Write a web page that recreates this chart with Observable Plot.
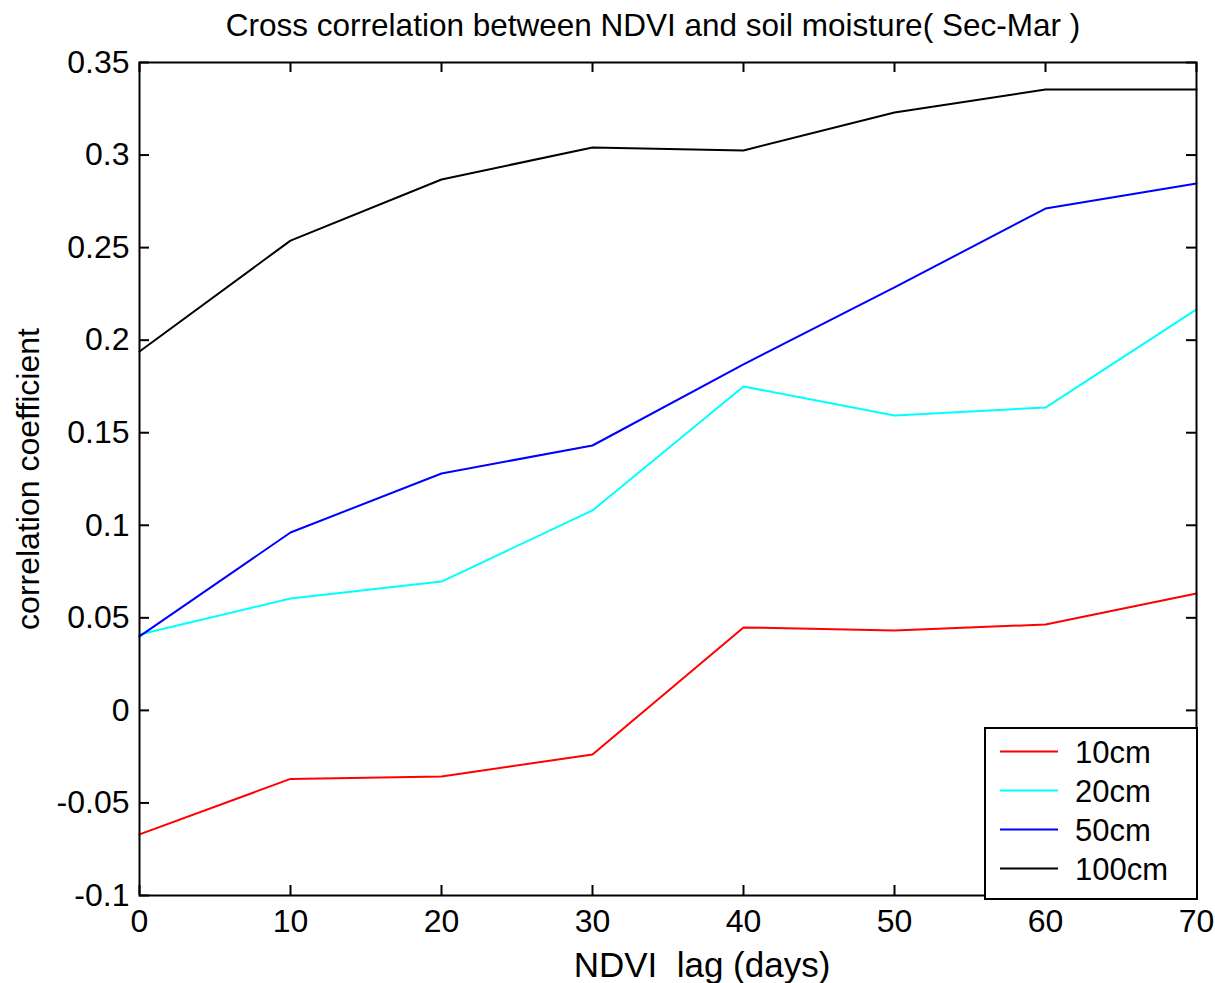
<!DOCTYPE html>
<html>
<head>
<meta charset="utf-8">
<script src="https://cdn.jsdelivr.net/npm/d3@7"></script>
<script src="https://cdn.jsdelivr.net/npm/@observablehq/plot@0.6"></script>
<style>
  body { margin: 0; background: #fff; }
  #wrap { position: relative; width: 1215px; height: 983px; }
  #legend {
    position: absolute; left: 984px; top: 727px; width: 210px; height: 166px;
    border: 2px solid #000; background: #fff; box-sizing: content-box;
    font-family: "Liberation Sans", Arial, sans-serif; font-size: 31px; color: #000;
    padding-top: 3px;
  }
  .row { position: relative; height: 39px; }
  .row svg { position: absolute; left: 14px; top: 0; }
  .row span { position: absolute; left: 89px; top: 50%; transform: translateY(-50%); line-height: 1; }
</style>
</head>
<body>
<div id="wrap"><div id="chart"></div><div id="legend"></div></div>
<script>
// ---- data ----
const lags = [0, 10, 20, 30, 40, 50, 60, 70];
const seriesNames = ["10cm", "20cm", "50cm", "100cm"];
const seriesColors = ["#ff0000", "#00ffff", "#0000ff", "#000000"];
const corr10cm  = [-0.067, -0.037, -0.0357, -0.0238, 0.0448, 0.0432, 0.0464, 0.0631];
const corr20cm  = [0.041, 0.0604, 0.0696, 0.108, 0.175, 0.1593, 0.1636, 0.2166];
const corr50cm  = [0.040, 0.0961, 0.128, 0.1431, 0.1869, 0.2285, 0.2711, 0.2846];
const corr100cm = [0.1939, 0.2538, 0.2868, 0.3041, 0.3025, 0.323, 0.3354, 0.3354];
const xTicks = [0, 10, 20, 30, 40, 50, 60, 70];
const yTicks = [-0.1, -0.05, 0, 0.05, 0.1, 0.15, 0.2, 0.25, 0.3, 0.35];
const yTickLabels = ["-0.1", "-0.05", "0", "0.05", "0.1", "0.15", "0.2", "0.25", "0.3", "0.35"];
const titleText = "Cross correlation between NDVI and soil moisture( Sec-Mar )";
const xLabel = "NDVI\u00a0 lag (days)";
const yLabel = "correlation coefficient";

const seriesValues = [corr10cm, corr20cm, corr50cm, corr100cm];
const data = seriesNames.flatMap((s, i) => lags.map((lag, j) => ({series: s, lag, value: seriesValues[i][j]})));

const W = 1215, H = 983, mt = 62, ml = 139, mr = 19, mb = 88;
const plotW = W - ml - mr, plotH = H - mt - mb;
const tickLen = 10;
const font = "Liberation Sans, Arial, sans-serif";

const chart = Plot.plot({
  width: W, height: H,
  marginTop: mt, marginLeft: ml, marginRight: mr, marginBottom: mb,
  style: {fontFamily: font, fontSize: "32px", background: "#fff", color: "#000", overflow: "visible"},
  x: {domain: [0, 70]},
  y: {domain: [-0.1, 0.35]},
  color: {domain: seriesNames, range: seriesColors},
  marks: [
    Plot.line(data, {x: "lag", y: "value", z: "series", stroke: "series", strokeWidth: 2, strokeLinejoin: "miter"}),
    // inward ticks on all four sides
    Plot.ruleX(xTicks, {x: d => d, insetTop: plotH - tickLen, stroke: "#000", strokeWidth: 2}),
    Plot.ruleX(xTicks, {x: d => d, insetBottom: plotH - tickLen, stroke: "#000", strokeWidth: 2}),
    Plot.ruleY(yTicks, {y: d => d, insetRight: plotW - tickLen, stroke: "#000", strokeWidth: 2}),
    Plot.ruleY(yTicks, {y: d => d, insetLeft: plotW - tickLen, stroke: "#000", strokeWidth: 2}),
    Plot.frame({stroke: "#000", strokeWidth: 2}),
    Plot.axisX({ticks: xTicks, tickSize: 0, tickPadding: 14, tickFormat: d => String(d), label: null, fontSize: 32}),
    Plot.axisY({ticks: yTicks, tickSize: 0, tickPadding: 10, label: null, fontSize: 32,
      tickFormat: d => yTickLabels[yTicks.findIndex(t => Math.abs(t - d) < 1e-9)]}),
    Plot.text([titleText], {frameAnchor: "top", lineAnchor: "middle", dy: -37, dx: -15, fontSize: 31.5}),
    Plot.text([xLabel], {frameAnchor: "bottom", lineAnchor: "middle", dy: 70, dx: 34, fontSize: 35}),
    Plot.text([yLabel], {frameAnchor: "left", textAnchor: "middle", lineAnchor: "middle", rotate: -90, dx: 28 - ml, fontSize: 32})
  ]
});
document.getElementById("chart").appendChild(chart);

// legend built from the series arrays
const legend = document.getElementById("legend");
seriesNames.forEach((name, i) => {
  const row = document.createElement("div");
  row.className = "row";
  row.innerHTML = `<svg width="60" height="39"><line x1="0" x2="58" y1="19.5" y2="19.5" stroke="${seriesColors[i]}" stroke-width="2"/></svg><span>${name}</span>`;
  legend.appendChild(row);
});
</script>
</body>
</html>
